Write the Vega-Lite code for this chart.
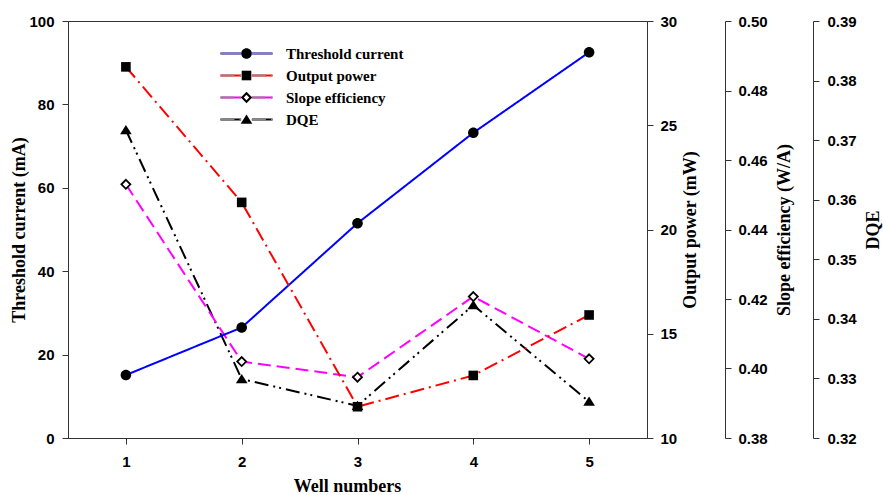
{
  "$schema": "https://vega.github.io/schema/vega-lite/v6.json",
  "width": 579,
  "height": 417,
  "autosize": {"type": "none"},
  "padding": {"left": 68, "top": 21, "right": 236, "bottom": 57},
  "background": "white",
  "config": {
    "view": {"stroke": "#333", "strokeWidth": 1},
    "axis": {
      "domainColor": "#333", "tickColor": "#333", "tickSize": 6, "grid": false,
      "labelFont": "Liberation Sans", "labelFontWeight": "bold", "labelFontSize": 15, "labelColor": "black",
      "titleFont": "Liberation Serif", "titleFontWeight": "bold", "titleFontSize": 18, "titleColor": "black",
      "labelPadding": 8
    }
  },
  "datasets": {
    "wells": [
      {"well": 1, "series": "Threshold current", "value": 15.1},
      {"well": 2, "series": "Threshold current", "value": 26.5},
      {"well": 3, "series": "Threshold current", "value": 51.5},
      {"well": 4, "series": "Threshold current", "value": 73.2},
      {"well": 5, "series": "Threshold current", "value": 92.5},
      {"well": 1, "series": "Output power", "value": 27.8},
      {"well": 2, "series": "Output power", "value": 21.3},
      {"well": 3, "series": "Output power", "value": 11.5},
      {"well": 4, "series": "Output power", "value": 13.0},
      {"well": 5, "series": "Output power", "value": 15.9},
      {"well": 1, "series": "Slope efficiency", "value": 0.453},
      {"well": 2, "series": "Slope efficiency", "value": 0.402},
      {"well": 3, "series": "Slope efficiency", "value": 0.3975},
      {"well": 4, "series": "Slope efficiency", "value": 0.4207},
      {"well": 5, "series": "Slope efficiency", "value": 0.4028},
      {"well": 1, "series": "DQE", "value": 0.3717},
      {"well": 2, "series": "DQE", "value": 0.3299},
      {"well": 3, "series": "DQE", "value": 0.3254},
      {"well": 4, "series": "DQE", "value": 0.3423},
      {"well": 5, "series": "DQE", "value": 0.3261}
    ]
  },
  "data": {"name": "wells"},
  "encoding": {
    "x": {
      "field": "well", "type": "quantitative",
      "scale": {"domain": [0.5, 5.5], "nice": false, "zero": false},
      "axis": {"values": [1, 2, 3, 4, 5], "format": "d", "title": "Well numbers", "labelPadding": 10, "titlePadding": 8, "titleX": 279}
    }
  },
  "layer": [
    {
      "transform": [{"filter": "datum.series === 'DQE'"}],
      "encoding": {
        "y": {
          "field": "value", "type": "quantitative",
          "scale": {"domain": [0.32, 0.39], "nice": false, "zero": false},
          "axis": {"orient": "right", "offset": 166, "values": [0.32, 0.33, 0.34, 0.35, 0.36, 0.37, 0.38, 0.39], "format": ".2f", "title": "DQE", "titleAngle": 270, "titleBaseline": "top", "labelPadding": 8, "titlePadding": 8}
        }
      },
      "layer": [
        {
          "mark": {"type": "line", "strokeWidth": 2},
          "encoding": {
            "color": {
              "field": "series", "type": "nominal",
              "sort": ["Threshold current", "Output power", "Slope efficiency", "DQE"],
              "scale": {"range": ["#0000ff", "#ff0000", "#ff00ff", "#000000"]},
              "legend": {"orient": "none", "legendX": 171, "legendY": 25, "title": null, "symbolType": "M-4.333,0H-0.9M0.9,0H4.333", "symbolSize": 144, "symbolStrokeWidth": 2, "rowPadding": 6, "labelOffset": 32, "labelFont": "Liberation Serif", "labelFontWeight": "bold", "labelFontSize": 15, "labelColor": "black", "labelOpacity": 0}
            },
            "strokeDash": {
              "field": "series", "type": "nominal",
              "sort": ["Threshold current", "Output power", "Slope efficiency", "DQE"],
              "scale": {"range": [[1, 0], [14, 5, 2, 5], [13, 6], [14, 5, 2, 4, 2, 5]]},
              "legend": {"orient": "none", "legendX": 171, "legendY": 25, "title": null, "symbolType": "M-4.333,0H-0.9M0.9,0H4.333", "symbolSize": 144, "symbolStrokeWidth": 2, "rowPadding": 6, "labelOffset": 32, "labelFont": "Liberation Serif", "labelFontWeight": "bold", "labelFontSize": 15, "labelColor": "black", "labelOpacity": 0}
            }
          }
        },
        {"mark": {"type": "point", "shape": "M0,-0.85L0.97,0.7L-0.97,0.7Z", "size": 144, "filled": true, "color": "black", "opacity": 1}}
      ]
    },
    {
      "transform": [{"filter": "datum.series === 'Slope efficiency'"}],
      "encoding": {
        "y": {
          "field": "value", "type": "quantitative",
          "scale": {"domain": [0.38, 0.5], "nice": false, "zero": false},
          "axis": {"orient": "right", "offset": 78, "values": [0.38, 0.4, 0.42, 0.44, 0.46, 0.48, 0.5], "format": ".2f", "title": "Slope efficiency (W/A)", "titleAngle": 270, "titleBaseline": "top", "labelPadding": 7, "titlePadding": 8}
        }
      },
      "layer": [
        {
          "mark": {"type": "line", "strokeWidth": 2},
          "encoding": {
            "color": {"field": "series", "type": "nominal", "sort": ["Threshold current", "Output power", "Slope efficiency", "DQE"]},
            "strokeDash": {"field": "series", "type": "nominal", "sort": ["Threshold current", "Output power", "Slope efficiency", "DQE"]}
          }
        },
        {"mark": {"type": "point", "shape": "M0,-0.75L0.75,0L0,0.75L-0.75,0Z", "size": 144, "filled": true, "fill": "white", "stroke": "black", "strokeWidth": 1.8, "opacity": 1}}
      ]
    },
    {
      "transform": [{"filter": "datum.series === 'Threshold current'"}],
      "encoding": {
        "y": {
          "field": "value", "type": "quantitative",
          "scale": {"domain": [0, 100], "nice": false},
          "axis": {"orient": "left", "values": [0, 20, 40, 60, 80, 100], "title": "Threshold current (mA)", "titlePadding": 0}
        }
      },
      "layer": [
        {
          "mark": {"type": "line", "strokeWidth": 2},
          "encoding": {
            "color": {"field": "series", "type": "nominal", "sort": ["Threshold current", "Output power", "Slope efficiency", "DQE"]},
            "strokeDash": {"field": "series", "type": "nominal", "sort": ["Threshold current", "Output power", "Slope efficiency", "DQE"]}
          }
        },
        {
          "mark": {"type": "point", "size": 144, "filled": true, "color": "black", "opacity": 1},
          "encoding": {
            "shape": {
              "field": "series", "type": "nominal",
              "scale": {
                "domain": ["Threshold current", "Output power", "Slope efficiency", "DQE"],
                "range": [
                  "M0.88,0A0.88,0.88,0,1,1,-0.88,0A0.88,0.88,0,1,1,0.88,0Z",
                  "M-0.8,-0.8H0.8V0.8H-0.8Z",
                  "M0,-0.95L0.95,0L0,0.95L-0.95,0ZM0,-0.45L-0.45,0L0,0.45L0.45,0Z",
                  "M0,-0.85L0.97,0.7L-0.97,0.7Z"
                ]
              },
              "legend": {"orient": "none", "legendX": 171, "legendY": 25, "title": null, "symbolSize": 144, "symbolStrokeWidth": 0, "rowPadding": 6, "labelOffset": 32, "labelFont": "Liberation Serif", "labelFontWeight": "bold", "labelFontSize": 15, "labelColor": "black"}
            }
          }
        }
      ]
    },
    {
      "transform": [{"filter": "datum.series === 'Output power'"}],
      "encoding": {
        "y": {
          "field": "value", "type": "quantitative",
          "scale": {"domain": [10, 30], "nice": false, "zero": false},
          "axis": {"orient": "right", "offset": 0, "values": [10, 15, 20, 25, 30], "title": "Output power (mW)", "titleAngle": 270, "titleBaseline": "top", "labelPadding": 7, "titlePadding": 5}
        }
      },
      "layer": [
        {
          "mark": {"type": "line", "strokeWidth": 2},
          "encoding": {
            "color": {"field": "series", "type": "nominal", "sort": ["Threshold current", "Output power", "Slope efficiency", "DQE"]},
            "strokeDash": {"field": "series", "type": "nominal", "sort": ["Threshold current", "Output power", "Slope efficiency", "DQE"]}
          }
        },
        {"mark": {"type": "point", "shape": "M-0.8,-0.8H0.8V0.8H-0.8Z", "size": 144, "filled": true, "color": "black", "opacity": 1}}
      ]
    }
  ],
  "resolve": {"scale": {"y": "independent"}, "axis": {"y": "independent"}}
}
